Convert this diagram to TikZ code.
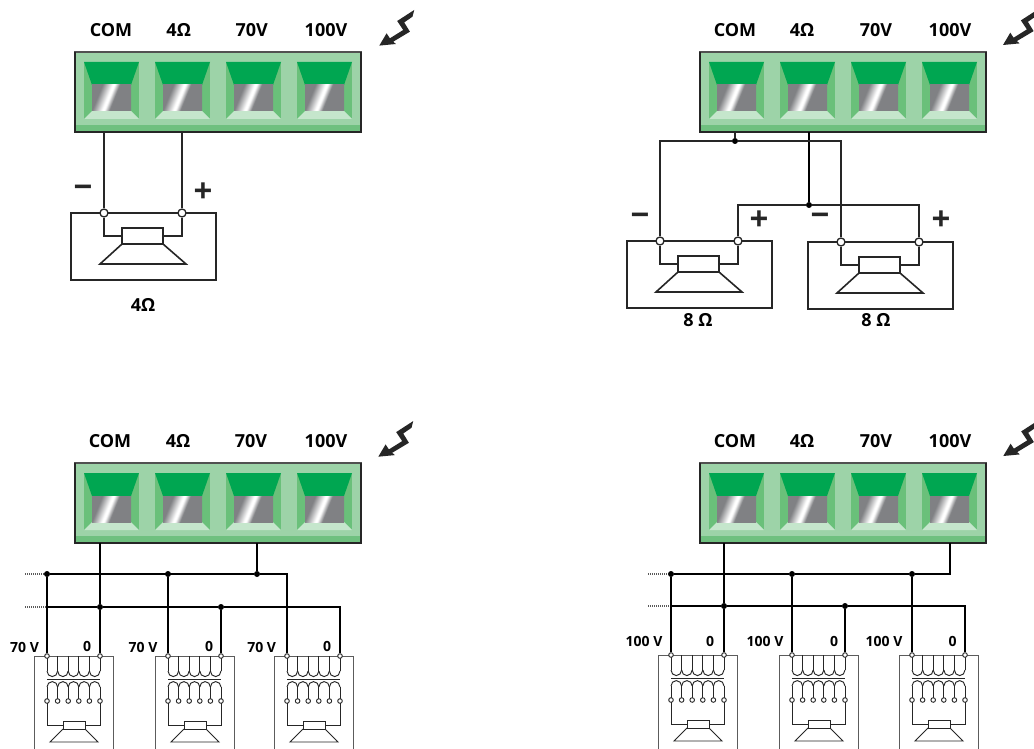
\documentclass[tikz,border=0pt]{standalone}
\usepackage{fontspec}
\setmainfont{Open Sans}
\usetikzlibrary{calc}
\definecolor{bodyg}{HTML}{9DD3A8}
\definecolor{bandg}{HTML}{6FC07F}
\definecolor{sideg}{HTML}{6AC07A}
\definecolor{lightg}{HTML}{C5E6CC}
\definecolor{deepg}{HTML}{00A651}
\definecolor{steel}{HTML}{808184}
\definecolor{ink}{HTML}{262626}
\pgfdeclarehorizontalshading{silverstreak}{100bp}{color(0bp)=(steel);color(40bp)=(steel);color(47bp)=(white);color(48.5bp)=(white);color(52bp)=(steel);color(100bp)=(steel)}
\tikzset{
  x=1pt,y=-1pt,
  wire/.style={draw=ink,line width=1.6pt},
  bus/.style={draw=black,line width=2pt},
  dotted bus/.style={draw=black!65,line width=1.8pt,dash pattern=on 1pt off 1pt},
  unit/.style={draw=ink,line width=.95pt},
  unitbox/.style={draw=ink!75,line width=.8pt},
  blockframe/.style={draw=ink!80,line width=1.3pt},
  blockedge/.style={draw=ink,line width=1.8pt},
  terminal/.style={circle,draw=ink,fill=white,line width=1.3pt,minimum size=8pt,inner sep=0pt},
  tinyterm/.style={circle,draw=ink,fill=white,line width=.9pt,minimum size=4.6pt,inner sep=0pt},
  junction/.style={circle,fill=black,minimum size=6pt,inner sep=0pt},
  head/.style={font=\fontsize{18}{20}\selectfont\bfseries,inner sep=0pt,text=black},
  ohm/.style={font=\fontsize{18}{20}\selectfont\bfseries,inner sep=0pt,text=black},
  tap/.style={font=\fontsize{14}{16}\selectfont\bfseries,inner sep=0pt,text=black},
  sign/.style={font=\fontsize{33}{36}\selectfont\bfseries,inner sep=0pt,text=ink},
}
% well: #1 x, #2 block top y
\newcommand{\terminalwell}[2]{%
  \fill[sideg] (#1,#2+10) rectangle (#1+55,#2+67);
  \fill[deepg] (#1,#2+10) -- (#1+55,#2+10) -- (#1+47,#2+33) -- (#1+8,#2+33) -- cycle;
  \fill[lightg] (#1+8,#2+59) -- (#1+47,#2+59) -- (#1+55,#2+67) -- (#1,#2+67) -- cycle;
  \begin{scope}
    \clip (#1+8,#2+33) rectangle (#1+47,#2+59);
    \shade[shading=silverstreak,shading angle=-22] (#1-7.5,#2+16) rectangle (#1+62.5,#2+76);
  \end{scope}
}
% block: #1 left x, #2 top y
\newcommand{\terminalblock}[2]{%
  \fill[bodyg] (#1,#2) rectangle (#1+286,#2+80);
  \fill[bandg] (#1,#2+73) rectangle (#1+286,#2+80);
  \terminalwell{#1+9}{#2}\terminalwell{#1+80}{#2}\terminalwell{#1+151}{#2}\terminalwell{#1+222}{#2}
  \draw[blockframe] (#1,#2) rectangle (#1+286,#2+80);
  \draw[blockedge] (#1,#2) -- (#1,#2+80) -- (#1+286,#2+80) -- (#1+286,#2);
}
% bolt: tip #1,#2
\newcommand{\bolt}[2]{%
  \fill[ink] (#1,#2) -- ++(7.3,-12.3) -- ++(3.3,5) -- ++(13.3,-8.3) -- ++(-6,-9) -- ++(17,-11)
    -- ++(-1.7,6.7) -- ++(-8.3,5.7) -- ++(5.7,9.3) -- ++(-16.7,10) -- ++(2.7,2.3) -- cycle;
}
% loudspeaker: #1 prefix, #2 left terminal x, #3 terminal y
\newcommand{\speaker}[3]{%
  \draw[wire] (#2-33,#3) rectangle (#2+112,#3+67);
  \draw[wire] (#2+18,#3+15) rectangle (#2+59,#3+31);
  \draw[wire] (#2+18,#3+31) -- (#2-4,#3+51) -- (#2+82,#3+51) -- (#2+59,#3+31);
  \node[terminal] (#1L) at (#2,#3) {};
  \node[terminal] (#1R) at (#2+78,#3) {};
  \draw[wire] (#1L) |- (#2+18,#3+23);
  \draw[wire] (#1R) |- (#2+59,#3+23);
}
% line-transformer unit: #1 prefix, #2 left terminal x, #3 terminal y
\newcommand{\lineunit}[3]{%
  \draw[unitbox] (#2-13,#3+94) -- (#2-13,#3) -- (#2+66,#3) -- (#2+66,#3+94);
  \foreach \k in {0,...,5}{
    \draw[unit] ({#2+\k*10.6},#3) -- ({#2+\k*10.6},#3+15);
    \draw[unit] ({#2+\k*10.6},#3+31) -- ({#2+\k*10.6},#3+45);
    \node[tinyterm] at ({#2+\k*10.6},#3+45) {};
  }
  \foreach \k in {0,...,4}{
    \draw[unit] ({#2+\k*10.6},#3+15) arc[start angle=180,end angle=360,x radius=5.3pt,y radius=5.6pt];
    \draw[unit] ({#2+\k*10.6},#3+31) arc[start angle=180,end angle=360,x radius=5.3pt,y radius=-5.4pt];
  }
  \draw[unit] (#2,#3+23) -- (#2+53,#3+23);
  \draw[unit] (#2+16,#3+65) rectangle (#2+38,#3+73);
  \draw[unit] (#2+16,#3+73) -- (#2+3,#3+86) -- (#2+51,#3+86) -- (#2+38,#3+73);
  \draw[unit] (#2,#3+47) |- (#2+16,#3+69);
  \draw[unit] (#2+53,#3+47) |- (#2+38,#3+69);
  \node[tinyterm] (#1L) at (#2,#3) {};
  \node[tinyterm] (#1R) at (#2+53,#3) {};
}
\begin{document}
\begin{tikzpicture}
\clip (0,0) rectangle (1034,749);
\fill[white] (0,0) rectangle (1034,749);

% ---------- panel A: single 4 ohm speaker
\node[head] (aCOM) at (111,30) {COM};
\node[head] (a4) at (178.7,30) {4Ω};
\node[head] (a70) at (251.7,30) {70V};
\node[head] (a100) at (326,30) {100V};
\terminalblock{75}{52}
\bolt{379.3}{45.6}
\coordinate (aOutC) at (104,132);
\coordinate (aOut4) at (182,132);
\speaker{aS}{104}{213}
\draw[wire] (aOutC) -- (aSL);
\draw[wire] (aOut4) -- (aSR);
\node[sign] (aMinus) at (83,192) {−};
\node[sign] (aPlus) at (203,193) {+};
\node[ohm] (aLabel) at (143,305) {4Ω};

% ---------- panel B: two 8 ohm speakers
\node[head] (bCOM) at (735,30) {COM};
\node[head] (b4) at (802,30) {4Ω};
\node[head] (b70) at (876,30) {70V};
\node[head] (b100) at (950,30) {100V};
\terminalblock{700}{52}
\bolt{1003}{45}
\speaker{bS}{660}{241}
\speaker{bT}{841}{242}
\coordinate (bOutC) at (735,132);
\coordinate (bOut4) at (809,132);
\node[junction] (bJ1) at (735,141) {};
\node[junction] (bJ2) at (809,205) {};
\draw[wire] (bOutC) -- (bJ1);
\draw[bus] (bOut4) -- (bJ2);
\draw[wire] (bSL) |- (bJ1);
\draw[wire] (bTL) |- (bJ1);
\draw[wire] (bSR) |- (bJ2);
\draw[wire] (bTR) |- (bJ2);
\node[sign] (bMinus1) at (640,220) {−};
\node[sign] (bPlus1) at (759,221) {+};
\node[sign] (bMinus2) at (820,220) {−};
\node[sign] (bPlus2) at (941,221) {+};
\node[ohm] (bLabel1) at (698,320) {8 Ω};
\node[ohm] (bLabel2) at (876,320) {8 Ω};

% ---------- panel C: 70 V line
\node[head] (cCOM) at (110,441) {COM};
\node[head] (c4) at (178,441) {4Ω};
\node[head] (c70) at (251,441) {70V};
\node[head] (c100) at (326,441) {100V};
\terminalblock{75}{463}
\bolt{378.3}{456.7}
\lineunit{cU}{47}{656}
\lineunit{cV}{168}{656}
\lineunit{cW}{287}{656}
\coordinate (cOutC) at (100,543);
\coordinate (cOut70) at (257,543);
\coordinate (cFree1) at (25,574);
\coordinate (cFree2) at (25,607);
\node[junction] (cA1) at (47,574) {};
\node[junction] (cA2) at (168,574) {};
\node[junction] (cA3) at (257,574) {};
\node[junction] (cB1) at (100,607) {};
\node[junction] (cB2) at (221,607) {};
\draw[dotted bus] (cFree1) -- (cA1);
\draw[dotted bus] (cFree2) -- (47,607);
\draw[bus] (cA1) -- (cA3);
\draw[bus] (cA3) -| (cWL);
\draw[bus] (47,607) -- (cB1) -- (cB2);
\draw[bus] (cB2) -- (340,607) -- (cWR);
\draw[bus] (cOutC) -- (cB1) -- (cUR);
\draw[bus] (cOut70) -- (cA3);
\draw[bus] (cA1) -- (cUL);
\draw[bus] (cA2) -- (cVL);
\draw[bus] (cB2) -- (cVR);
\node[tap] (cT1) at (24.5,647) {70 V};
\node[tap] (cZ1) at (87,646) {0};
\node[tap] (cT2) at (143,647) {70 V};
\node[tap] (cZ2) at (209,646) {0};
\node[tap] (cT3) at (261.7,647) {70 V};
\node[tap] (cZ3) at (327,646) {0};

% ---------- panel D: 100 V line
\node[head] (dCOM) at (735,441) {COM};
\node[head] (d4) at (802,441) {4Ω};
\node[head] (d70) at (876,441) {70V};
\node[head] (d100) at (950,441) {100V};
\terminalblock{700}{463}
\bolt{1003.3}{456}
\lineunit{dU}{671}{655}
\lineunit{dV}{792}{655}
\lineunit{dW}{912}{655}
\coordinate (dOutC) at (724,543);
\coordinate (dOut100) at (950,543);
\coordinate (dFree1) at (648,574);
\coordinate (dFree2) at (648,606);
\node[junction] (dA1) at (671,574) {};
\node[junction] (dA2) at (792,574) {};
\node[junction] (dA3) at (912,574) {};
\node[junction] (dB1) at (724,606) {};
\node[junction] (dB2) at (845,606) {};
\draw[dotted bus] (dFree1) -- (dA1);
\draw[dotted bus] (dFree2) -- (671,606);
\draw[bus] (dA1) -- (dA2) -- (dA3);
\draw[bus] (dA3) -| (dOut100);
\draw[bus] (671,606) -- (dB1) -- (dB2);
\draw[bus] (dB2) -- (965,606) -- (dWR);
\draw[bus] (dOutC) -- (dB1) -- (dUR);
\draw[bus] (dA1) -- (dUL);
\draw[bus] (dA2) -- (dVL);
\draw[bus] (dA3) -- (dWL);
\draw[bus] (dB2) -- (dVR);
\node[tap] (dT1) at (644,641.7) {100 V};
\node[tap] (dZ1) at (710,641.7) {0};
\node[tap] (dT2) at (765,641.7) {100 V};
\node[tap] (dZ2) at (834,641.7) {0};
\node[tap] (dT3) at (884,641.7) {100 V};
\node[tap] (dZ3) at (952.7,641.7) {0};
\end{tikzpicture}
\end{document}
